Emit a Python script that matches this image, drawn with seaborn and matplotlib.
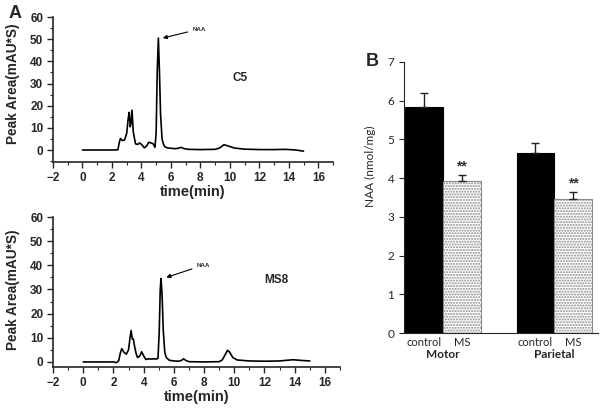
import numpy as np
import pandas as pd
import matplotlib
matplotlib.use("Agg")
import matplotlib.pyplot as plt
import seaborn as sns
from matplotlib.ticker import MultipleLocator
import matplotlib.transforms as mtrans

# ---- Panel A data: chromatogram traces (time in min, signal in mAU*S) ----
c5_time = [0, 1, 2, 2.4, 2.5, 2.58, 2.7, 2.85, 3.0, 3.1, 3.17, 3.24, 3.3, 3.36, 3.45,
           3.6, 3.75, 3.87, 4.0, 4.2, 4.35, 4.5, 4.65, 4.8, 4.92, 5.0, 5.07, 5.15,
           5.22, 5.3, 5.4, 5.5, 5.6, 5.8, 6.0, 6.3, 6.5, 6.7, 6.9, 7.2, 8, 9, 9.3,
           9.6, 9.9, 10.3, 11, 12, 13, 13.8, 14.5, 15]
c5_signal = [0, 0, 0, 0.1, 3.5, 5.2, 4.3, 4.5, 7.5, 14, 17, 10.5, 12, 18, 8,
             2.8, 2.5, 3.2, 2.6, 1.0, 1.8, 3.5, 3.2, 2.8, 1.2, 8, 35, 50.5,
             36, 16, 5, 2.5, 1.4, 0.9, 0.8, 0.6, 0.8, 1.2, 0.6, 0.3, 0.2, 0.3, 0.9,
             2.4, 1.8, 0.9, 0.4, 0.2, 0.2, 0.3, 0.0, -0.5]

ms8_time = [0, 1, 2, 2.2, 2.35, 2.45, 2.55, 2.7, 2.85, 3.0, 3.1, 3.17, 3.25, 3.32, 3.4,
            3.5, 3.6, 3.75, 3.87, 4.0, 4.15, 4.3, 4.5, 4.7, 4.85, 4.95, 5.03, 5.1, 5.15,
            5.22, 5.3, 5.4, 5.5, 5.7, 6.0, 6.3, 6.5, 6.65, 6.8, 7.0, 8, 9.0, 9.2, 9.4,
            9.55, 9.7, 9.9, 10.2, 11, 12, 13, 13.5, 13.9, 14.5, 15]
ms8_signal = [0, 0, 0, -0.3, 0.5, 3.5, 5.5, 4.0, 3.2, 5.0, 10, 13, 9.5, 9.5, 6.5,
              3.5, 1.8, 2.5, 4.2, 2.5, 1.0, 1.3, 1.2, 1.3, 1.2, 1.5, 12, 30, 34.5,
              28, 13, 4, 1.8, 0.7, 0.4, 0.3, 0.6, 1.3, 0.6, 0.1, 0.0, 0.1, 0.8, 3.0,
              4.8, 4.0, 1.8, 0.8, 0.4, 0.3, 0.4, 0.7, 0.9, 0.6, 0.4]

# ---- Panel B data: NAA concentration ----
regions = ["Motor", "Motor", "Parietal", "Parietal"]
groups = ["control", "MS", "control", "MS"]
naa_values = [5.83, 3.93, 4.65, 3.45]
naa_errors = [0.37, 0.15, 0.25, 0.18]

W, H = 601, 411
fig = plt.figure(figsize=(W / 100, H / 100), dpi=100)
sns.set_style("ticks")
plt.rcParams["font.family"] = ["Liberation Sans", "DejaVu Sans"]


def fx(px):
    return px / W


def fy(py):
    return 1 - py / H


def style_chrom(ax, ylim, label, lx, ly, ax_txt, ay_txt, hx, hy, ylab_y):
    ax.set_xlim(-2, 17)
    ax.set_ylim(*ylim)
    ax.xaxis.set_major_locator(MultipleLocator(2))
    ax.xaxis.set_minor_locator(MultipleLocator(1))
    ax.yaxis.set_major_locator(MultipleLocator(10))
    ax.yaxis.set_minor_locator(MultipleLocator(5))
    ax.tick_params(which="major", direction="out", length=4, width=1.0,
                   labelsize=8.5, pad=3)
    ax.tick_params(which="minor", direction="out", length=2, width=0.8)
    for lab in ax.get_xticklabels() + ax.get_yticklabels():
        lab.set_fontweight("bold")
    ax.set_xlabel("time(min)", fontsize=10.5, fontweight="bold", labelpad=1)
    ax.set_ylabel("Peak Area(mAU*S)", fontsize=9.8, fontweight="bold")
    ax.yaxis.set_label_coords(fx(20), fy(ylab_y), transform=fig.transFigure)
    for s in ["left", "bottom"]:
        ax.spines[s].set_linewidth(1.2)
    sns.despine(ax=ax)
    ax.text(lx, ly, label, fontsize=8.5, fontweight="bold")
    ax.annotate("NAA", xy=(hx, hy), xytext=(ax_txt, ay_txt), fontsize=4.5,
                fontweight="bold", va="center",
                arrowprops=dict(arrowstyle="-|>", color="black", lw=0.8,
                                mutation_scale=6, shrinkA=1, shrinkB=0))


# Top chromatogram
ax1 = fig.add_axes([fx(53), fy(162), fx(333 - 53), (162 - 17) / H])
sns.lineplot(x=c5_time, y=c5_signal, ax=ax1, color="black", lw=1.2, sort=False)
style_chrom(ax1, (-5.4, 60), "C5", 10.2, 31, 7.45, 54.5, 5.45, 50.5, 84)

# Bottom chromatogram
ax2 = fig.add_axes([fx(53), fy(367), fx(340 - 53), (367 - 217) / H])
sns.lineplot(x=ms8_time, y=ms8_signal, ax=ax2, color="black", lw=1.2, sort=False)
style_chrom(ax2, (-2.1, 60), "MS8", 12.0, 32.5, 7.5, 40, 5.5, 35, 290)

fig.text(fx(9), fy(13), "A", fontsize=13, fontweight="bold", va="center")

# Panel B
df = pd.DataFrame({"region": regions, "group": groups, "NAA": naa_values})
ax3 = fig.add_axes([fx(404), fy(333), fx(598 - 404), (333 - 62) / H])
sns.barplot(data=df, x="region", y="NAA", hue="group", order=["Motor", "Parietal"],
            hue_order=["control", "MS"], palette={"control": "black", "MS": "white"},
            width=0.68, errorbar=None, legend=False, ax=ax3, linewidth=0.8,
            edgecolor="#555555", saturation=1)
ctrl_bars, ms_bars = ax3.containers[0], ax3.containers[1]
for b in ctrl_bars:
    b.set_edgecolor("black")
for b in ms_bars:
    b.set_hatch("......")
    b.set_edgecolor("#8a8a8a")
    b.set_linewidth(0.8)

centers, labels_tick = [], []
err_lookup = {(r, g): e for r, g, e in zip(regions, groups, naa_errors)}
for container, g in [(ctrl_bars, "control"), (ms_bars, "MS")]:
    for b, r in zip(container, ["Motor", "Parietal"]):
        xc = b.get_x() + b.get_width() / 2
        h = b.get_height()
        ax3.errorbar([xc], [h], yerr=[[0], [err_lookup[(r, g)]]], fmt="none",
                     ecolor="#222222", elinewidth=1.0, capsize=3, capthick=1.0)
        if g == "MS":
            ax3.text(xc, h + err_lookup[(r, g)] + 0.05, "**", ha="center",
                     va="bottom", fontsize=10, fontweight="bold", color="#333333")
        centers.append(xc)
        labels_tick.append(g)

ax3.set_xlim(-0.348, 1.39)
ax3.set_ylim(0, 7)
ax3.set_xticks(centers)
ax3.set_xticklabels(labels_tick, family="Lato", fontsize=8)
ax3.tick_params(axis="x", length=0, pad=3)
ax3.tick_params(axis="y", direction="out", length=3.5, width=0.8, labelsize=8.5)
for lab in ax3.get_yticklabels():
    lab.set_family("Lato")
ax3.yaxis.set_major_locator(MultipleLocator(1))
ax3.set_xlabel("")
ax3.set_ylabel("NAA (nmol/mg)", family="Lato", fontsize=8.5)
ax3.yaxis.set_label_coords(fx(376), fy(166), transform=fig.transFigure)
sns.despine(ax=ax3)
ax3.spines["left"].set_linewidth(0.8)
ax3.spines["bottom"].set_linewidth(0.8)
trans = mtrans.blended_transform_factory(ax3.transData, fig.transFigure)
for i, r in enumerate(["Motor", "Parietal"]):
    ax3.text(i, fy(354), r, transform=trans, ha="center", va="center",
             family="Lato", fontweight="bold", fontsize=8.5)

fig.text(fx(366), fy(61), "B", fontsize=13, fontweight="bold", va="center")

fig.savefig("out.png", dpi=100)
